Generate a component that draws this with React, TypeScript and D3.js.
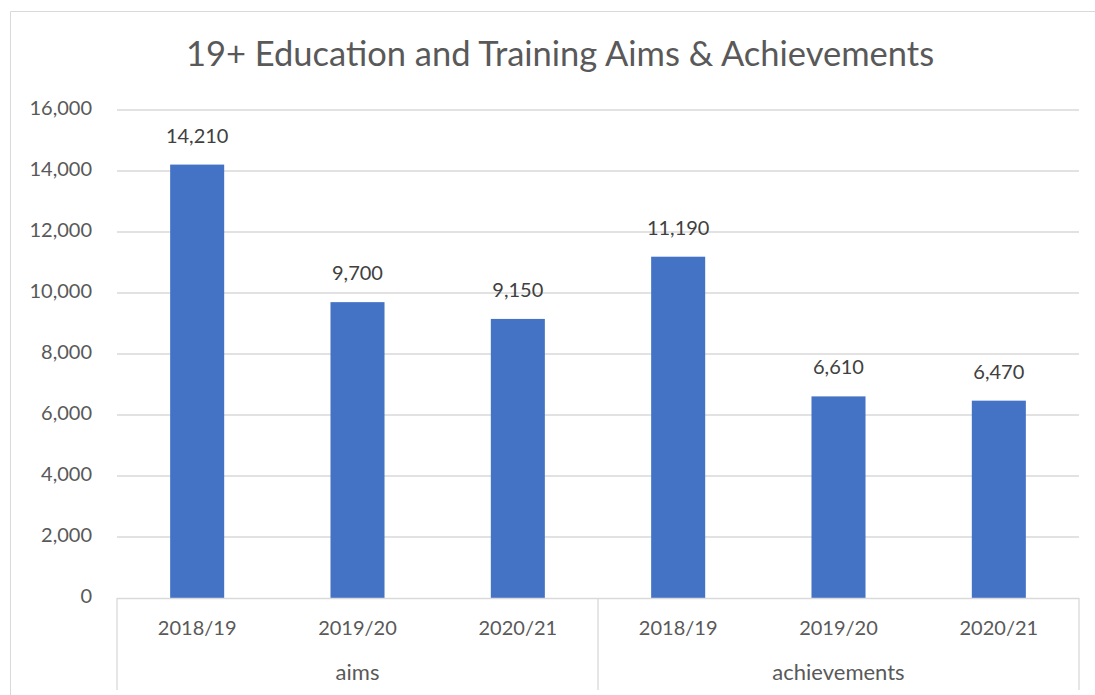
import React from "react";
import * as d3 from "d3";

const groups = ["aims", "achievements"];
const years = ["2018/19", "2019/20", "2020/21"];
const aimsValues = [14210, 9700, 9150];
const achievementValues = [11190, 6610, 6470];
const yTicks = [0, 2000, 4000, 6000, 8000, 10000, 12000, 14000, 16000];

const W = 1095;
const H = 695;
const FONT = "Lato, 'Noto Sans', sans-serif";
const TEXT = "#595959";
const GRID = "#d9d9d9";
const BAR = "#4472c4";

const App = () => {
  const rows = [
    ...years.map((y, i) => ({ key: `aims-${y}`, year: y, group: groups[0], value: aimsValues[i] })),
    ...years.map((y, i) => ({ key: `ach-${y}`, year: y, group: groups[1], value: achievementValues[i] })),
  ];

  const left = 117;
  const right = 1079;
  const top = 110;
  const bottom = 598;

  const x = d3
    .scaleBand()
    .domain(rows.map((d) => d.key))
    .range([left, right])
    .paddingInner(0.663)
    .paddingOuter(0.3315);

  const y = d3.scaleLinear().domain([0, 16000]).range([bottom, top]);
  const fmt = d3.format(",");

  // group spans on the x axis
  const groupX = d3.scaleBand().domain(groups).range([left, right]);

  return (
    <svg width={W} height={H} style={{ position: "absolute", left: 0, top: 0 }}>
      <rect x={0} y={0} width={W} height={H} fill="#fff" />
      {/* chart border */}
      <path d={`M10.5,${H + 5} V11.5 H${W + 5}`} fill="none" stroke={GRID} strokeWidth={1} />

      <text
        x={560}
        y={57}
        textAnchor="middle"
        dominantBaseline="middle"
        fontFamily={FONT}
        fontSize={34.5}
        fill={TEXT}
      >
        19+ Education and Training Aims &amp; Achievements
      </text>

      {/* gridlines */}
      {yTicks.map((t) => (
        <g key={t}>
          {t > 0 && (
            <line x1={left} x2={right} y1={y(t)} y2={y(t)} stroke={GRID} strokeWidth={1.3} />
          )}
          <text
            x={92}
            y={y(t)}
            textAnchor="end"
            dominantBaseline="middle"
            fontFamily={FONT}
            fontSize={20}
            fill={TEXT}
          >
            {fmt(t)}
          </text>
        </g>
      ))}

      {/* bars */}
      {rows.map((d) => (
        <g key={d.key}>
          <rect
            x={x(d.key)}
            y={y(d.value)}
            width={x.bandwidth()}
            height={bottom - y(d.value)}
            fill={BAR}
          />
          <text
            x={(x(d.key) || 0) + x.bandwidth() / 2}
            y={y(d.value) - 27}
            textAnchor="middle"
            dominantBaseline="middle"
            fontFamily={FONT}
            fontSize={20}
            fill="#404040"
          >
            {fmt(d.value)}
          </text>
          <text
            x={(x(d.key) || 0) + x.bandwidth() / 2}
            y={630}
            textAnchor="middle"
            dominantBaseline="middle"
            fontFamily={FONT}
            fontSize={20}
            fill={TEXT}
          >
            {d.year}
          </text>
        </g>
      ))}

      {/* category axis */}
      <line x1={left} x2={right} y1={bottom + 0.5} y2={bottom + 0.5} stroke={GRID} strokeWidth={1.3} />
      {[left, groupX(groups[1]) || 0, right].map((gx, i) => (
        <line key={i} x1={gx} x2={gx} y1={bottom} y2={690} stroke={GRID} strokeWidth={1.3} />
      ))}
      {groups.map((g) => (
        <text
          key={g}
          x={(groupX(g) || 0) + groupX.bandwidth() / 2}
          y={674}
          textAnchor="middle"
          dominantBaseline="middle"
          fontFamily={FONT}
          fontSize={22}
          fill={TEXT}
        >
          {g}
        </text>
      ))}
    </svg>
  );
};

export default App;
